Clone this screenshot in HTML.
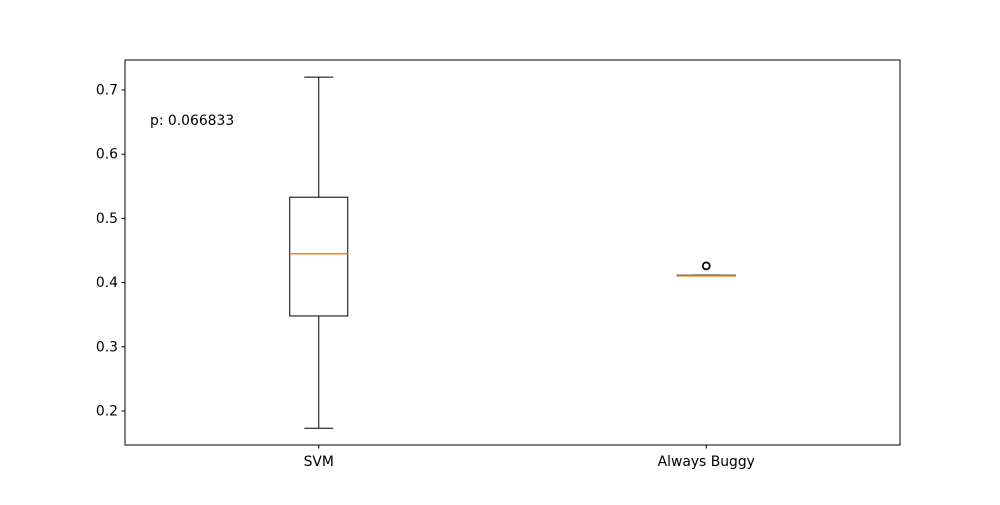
<!DOCTYPE html>
<html><head><meta charset="utf-8"><style>
body{margin:0;background:#fff}
svg text{font-family:"DejaVu Sans","Liberation Sans",sans-serif;font-size:13.9px;fill:#000}
</style></head><body>
<svg id="chart" width="1000" height="500"></svg>
<script>
const categories=["SVM","Always Buggy"];
const q1s=[0.348,0.4105];
const medians=[0.445,0.4105];
const q3s=[0.533,0.4115];
const whiskerLows=[0.173,0.4105];
const whiskerHighs=[0.72,0.4115];
const outliers=[[],[0.426]];
const yTicks=[0.2,0.3,0.4,0.5,0.6,0.7];
const pText="p: 0.066833";

const L=125,R=900,T=60,B=445,yMin=0.1470,yMax=0.7467;
const y=v=>B-(v-yMin)/(yMax-yMin)*(B-T);
const x=i=>L+(R-L)*(i+0.5)/categories.length;
const svg=document.getElementById('chart');
const NS="http://www.w3.org/2000/svg";
function mk(tag,attrs,parent){const e=document.createElementNS(NS,tag);for(const k in attrs)e.setAttribute(k,attrs[k]);(parent||svg).appendChild(e);return e;}

yTicks.forEach(t=>{
  const g=mk('g',{});
  
  
  mk('line',{x1:L-3.5,x2:L,y1:y(t),y2:y(t),stroke:'#000','stroke-width':1},g);
  const tx=mk('text',{x:L-7,y:y(t)+4.5,'text-anchor':'end'},g);tx.textContent=t.toFixed(1);
});
categories.forEach((c,i)=>{
  const cx=x(i),hw=29;
  const g=mk('g',{});
  
  
  const s={stroke:'#000','stroke-width':1,fill:'none'};
  mk('line',Object.assign({x1:cx,x2:cx,y1:y(q3s[i]),y2:y(whiskerHighs[i])},s),g);
  mk('line',Object.assign({x1:cx,x2:cx,y1:y(q1s[i]),y2:y(whiskerLows[i])},s),g);
  mk('line',Object.assign({x1:cx-hw/2,x2:cx+hw/2,y1:y(whiskerHighs[i]),y2:y(whiskerHighs[i])},s),g);
  mk('line',Object.assign({x1:cx-hw/2,x2:cx+hw/2,y1:y(whiskerLows[i]),y2:y(whiskerLows[i])},s),g);
  mk('rect',Object.assign({x:cx-hw,y:y(q3s[i]),width:2*hw,height:Math.max(0.5,y(q1s[i])-y(q3s[i]))},s),g);
  mk('line',{x1:cx-hw,x2:cx+hw,y1:y(medians[i]),y2:y(medians[i]),stroke:'#ff7f0e','stroke-width':1.5},g);
  outliers[i].forEach(o=>{
    const c2=mk('circle',{cx:cx,cy:y(o),r:3.5,fill:'none',stroke:'#000','stroke-width':1.8},g);
    
    
  });
  mk('line',{x1:cx,x2:cx,y1:B,y2:B+3.5,stroke:'#000'});
  const lb=mk('text',{x:cx,y:B+21,'text-anchor':'middle'});lb.textContent=c;
  
  
});
const fr=mk('rect',{x:L,y:T,width:R-L,height:B-T,fill:'none',stroke:'#000','stroke-width':1});


const pt=mk('text',{x:150,y:125});pt.textContent=pText;


</script>
</body></html>
